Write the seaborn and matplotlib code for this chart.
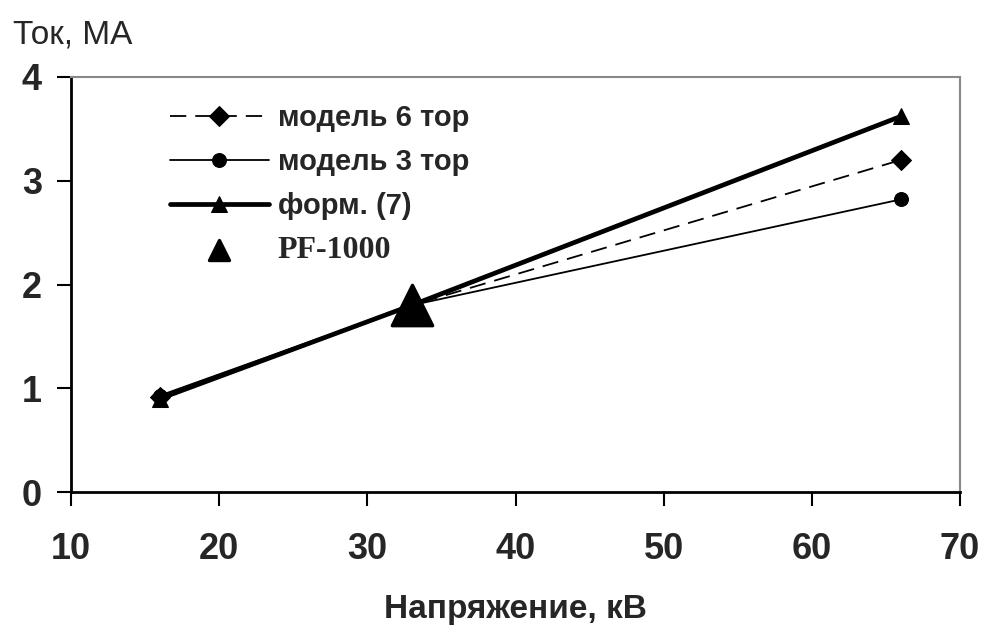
import numpy as np
import pandas as pd
import matplotlib
matplotlib.use('Agg')
import matplotlib.pyplot as plt
import seaborn as sns

# напряжение, кВ
voltage = [16, 33, 66]
# ток, МА
model6 = [0.92, 1.80, 3.20]
model3 = [0.93, 1.80, 2.82]
formula7 = [0.90, 1.80, 3.62]
# эксперимент PF-1000
pf_voltage = [33]
pf_current = [1.80]

labels = ['модель 6 тор', 'модель 3 тор', 'форм. (7)', 'PF-1000']
x_ticks = [10, 20, 30, 40, 50, 60, 70]
y_ticks = [0, 1, 2, 3, 4]

sns.set_style('white')
plt.rcParams['font.family'] = ['Liberation Sans', 'DejaVu Sans']

fig = plt.figure(figsize=(9.82, 6.39), dpi=100)
ax = fig.add_axes([71 / 982, 1 - 492 / 639, (960 - 71) / 982, (492 - 77) / 639])

sns.lineplot(x=voltage, y=model6, ax=ax, color='black', lw=1.3, marker='D', markersize=10,
             markeredgecolor='black', linestyle=(0, (9, 5)), label=labels[0])
sns.lineplot(x=voltage, y=model3, ax=ax, color='black', lw=1.3, marker='o', markersize=10,
             markeredgecolor='black', label=labels[1])
sns.lineplot(x=voltage, y=formula7, ax=ax, color='black', lw=3.4, marker='^', markersize=11,
             markeredgecolor='black', label=labels[2])
sns.scatterplot(x=pf_voltage, y=pf_current, ax=ax, color='black', marker='^', s=850,
                edgecolor='black', label=labels[3], zorder=5)

ax.set_xlim(10, 70)
ax.set_ylim(0, 4)
ax.set_xticks(x_ticks)
ax.set_yticks(y_ticks)
ax.tick_params(axis='both', direction='out', length=10, width=1.5, color='black',
               labelsize=26, left=True, bottom=True)
ax.tick_params(axis='x', pad=19)
ax.tick_params(axis='y', pad=11)
for t in ax.get_xticklabels() + ax.get_yticklabels():
    t.set_fontweight('bold')

for side in ['left', 'bottom']:
    ax.spines[side].set_color('black')
    ax.spines[side].set_linewidth(2)
for side in ['top', 'right']:
    ax.spines[side].set_color('#888888')
    ax.spines[side].set_linewidth(1.5)

ax.set_xlabel('Напряжение, кВ', fontsize=24, fontweight='bold', labelpad=19)
ax.set_ylabel('')
fig.text(13 / 982, 1 - 43 / 639, 'Ток, МА', fontsize=24, ha='left', va='baseline')

leg = ax.legend(loc='upper left', bbox_to_anchor=(0.111, 0.935), frameon=False,
                fontsize=21, handlelength=3.4, handletextpad=0.3, labelspacing=0.55,
                borderpad=0, borderaxespad=0)
for t in leg.get_texts():
    t.set_fontweight('bold')
leg.get_texts()[3].set_family('Liberation Serif')
leg.get_texts()[3].set_fontsize(23)
leg.legend_handles[3].set_sizes([210])

fig.savefig('out.png', dpi=100)
